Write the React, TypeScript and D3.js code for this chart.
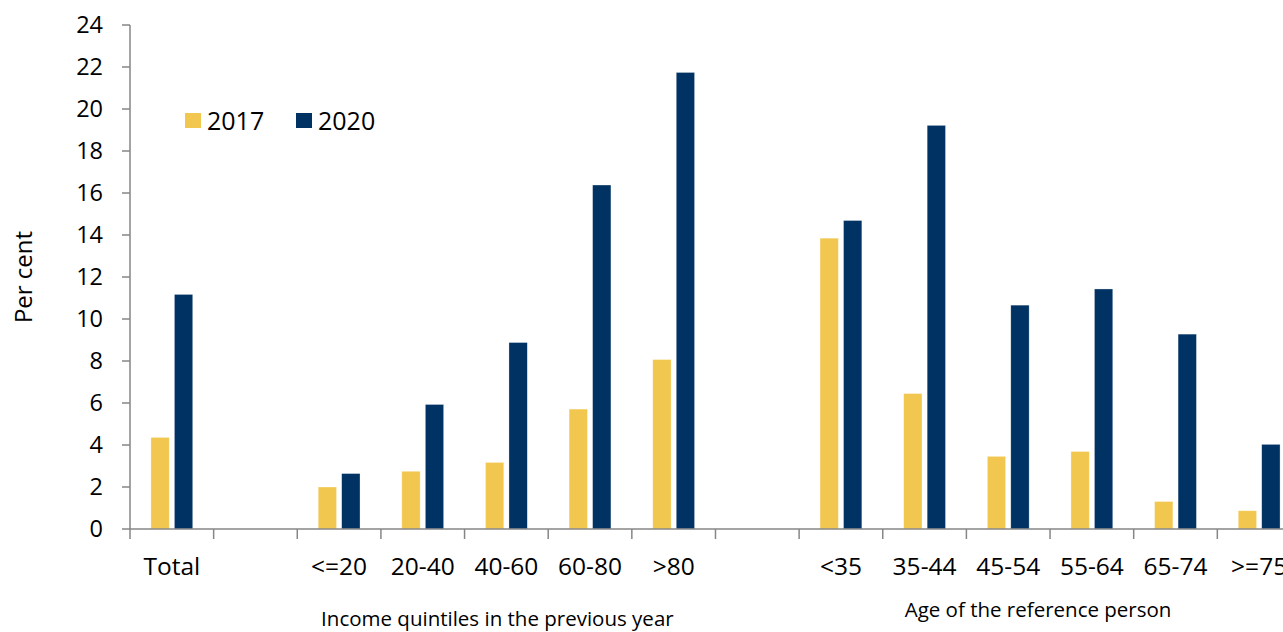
import React from "react";
import * as d3 from "d3";

const categories = ["Total", "", "<=20", "20-40", "40-60", "60-80", ">80", "", "<35", "35-44", "45-54", "55-64", "65-74", ">=75"];
const series = ["2017", "2020"];
const values2017 = [4.36, null, 2.0, 2.75, 3.17, 5.71, 8.07, null, 13.85, 6.45, 3.46, 3.69, 1.31, 0.87];
const values2020 = [11.17, null, 2.64, 5.93, 8.88, 16.38, 21.74, null, 14.69, 19.22, 10.66, 11.43, 9.28, 4.03];
const yTicks = [0, 2, 4, 6, 8, 10, 12, 14, 16, 18, 20, 22, 24];
const colors = ["#F2C750", "#003263"];
const groupLabels = ["Income quintiles in the previous year", "Age of the reference person"];

const W = 1283;
const H = 632;
const FONT = "'Open Sans', 'Noto Sans', sans-serif";

export default function App() {
  const x0 = 130;
  const step = 83.64;
  const x = d3
    .scaleBand<number>()
    .domain(categories.map((_, i) => i))
    .range([x0, x0 + step * categories.length])
    .padding(0);
  const bw = x.bandwidth();
  const x1 = d3.scaleBand<string>().domain(series).range([bw * 0.25, bw * 0.75]).paddingInner(0.22);
  const y = d3.scaleLinear().domain([0, 24]).range([529, 25]);
  const data = [values2017, values2020];
  const axisColor = "#868686";

  const incomeCenter = ((x(2) as number) + (x(6) as number) + bw) / 2 - 9;
  const ageCenter = ((x(8) as number) + (x(13) as number) + bw) / 2 - 12;

  return (
    <svg
      width={W}
      height={H}
      style={{ position: "fixed", left: 0, top: 0, background: "#fff" }}
      fontFamily={FONT}
    >
      <rect x={0} y={0} width={W} height={H} fill="#fff" />
      {/* bars */}
      {data.map((vals, si) =>
        vals.map((v, i) =>
          v == null ? null : (
            <rect
              key={`${si}-${i}`}
              x={(x(i) as number) + (x1(series[si]) as number)}
              y={y(v)}
              width={x1.bandwidth()}
              height={y(0) - y(v)}
              fill={colors[si]}
              stroke="#ffffff"
              strokeOpacity={0.5}
              strokeWidth={0.6}
            />
          )
        )
      )}
      {/* y axis */}
      <line x1={x0} x2={x0} y1={y(24)} y2={y(0)} stroke={axisColor} strokeWidth={1.5} />
      {yTicks.map((t) => (
        <g key={t}>
          <line x1={x0 - 8} x2={x0} y1={y(t)} y2={y(t)} stroke={axisColor} strokeWidth={1.5} />
          <text x={103} y={y(t)} dy="0.36em" textAnchor="end" fontSize={23.5} fill="#000">
            {t}
          </text>
        </g>
      ))}
      {/* x axis */}
      <line x1={x0} x2={W} y1={y(0)} y2={y(0)} stroke={axisColor} strokeWidth={1.5} />
      {categories.map((c, i) => (
        <g key={i}>
          <line
            x1={x(i) as number}
            x2={x(i) as number}
            y1={y(0)}
            y2={y(0) + 10}
            stroke={axisColor}
            strokeWidth={1.5}
          />
          {c && (
            <text x={(x(i) as number) + bw / 2} y={575} textAnchor="middle" fontSize={24.5} fill="#000">
              {c}
            </text>
          )}
        </g>
      ))}
      {/* group labels */}
      <text x={incomeCenter} y={626} textAnchor="middle" fontSize={20.5} fill="#000">
        {groupLabels[0]}
      </text>
      <text x={ageCenter} y={617} textAnchor="middle" fontSize={20.5} fill="#000">
        {groupLabels[1]}
      </text>
      {/* y label */}
      <text
        transform={`translate(32, ${277}) rotate(-90)`}
        textAnchor="middle"
        fontSize={24}
        fill="#000"
      >
        Per cent
      </text>
      {/* legend */}
      {series.map((s, i) => (
        <g key={s} transform={`translate(${185 + i * 111}, 113)`}>
          <rect x={0} y={0} width={16} height={15} fill={colors[i]} />
          <text x={22} y={7.5} dy="0.36em" fontSize={25} fill="#000">
            {s}
          </text>
        </g>
      ))}
    </svg>
  );
}
